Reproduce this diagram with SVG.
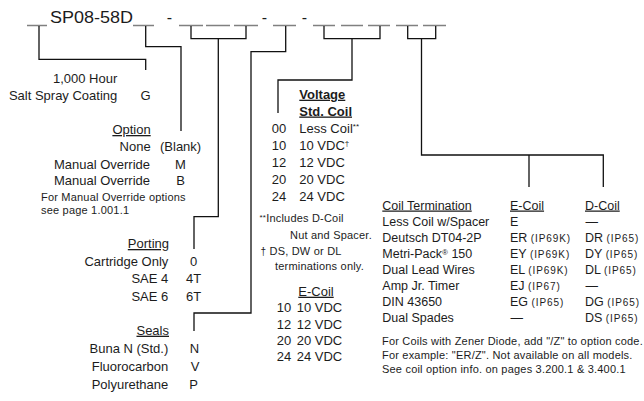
<svg xmlns="http://www.w3.org/2000/svg" width="644" height="401" viewBox="0 0 644 401">
<style>
text { font-family: "Liberation Sans", Arial, Helvetica, sans-serif; font-size: 13px; fill: #1c1c1c; }
.r { text-anchor: end; }
.m { text-anchor: middle; }
.u { text-decoration: underline; }
.b { font-weight: bold; }
.s { font-size: 11px; letter-spacing: 0.2px; }
.tb { font-size: 12.5px; }
.ip { font-size: 10px; letter-spacing: 0.9px; }
.sup { font-size: 8px; }
.c { fill: none; stroke: #111; stroke-width: 1.3; }
.us { fill: none; stroke: #808080; stroke-width: 1.7; }
</style>
<rect width="644" height="401" fill="#fff"/>
<g id="header">
  <path class="us" d="M27,25.5H47 M133,25.5H154 M179,25.5H203 M206,25.5H230 M234,25.5H258 M273,25.5H296 M313,25.5H335 M341,25.5H363 M368,25.5H390 M396,25.5H418 M423,25.5H446"/>
  <text x="50" y="23.3" style="font-size:16px" textLength="83" lengthAdjust="spacingAndGlyphs">SP08-58D</text>
  <text class="m" x="169.5" y="23.3" style="font-size:16px">-</text>
  <text class="m" x="264.5" y="23.3" style="font-size:16px">-</text>
  <text class="m" x="304.5" y="23.3" style="font-size:16px">-</text>
</g>
<g id="connectors">
  <path class="c" d="M39,26V59.3H145.7V70"/>
  <path class="c" d="M145.7,26V46.7H181V131"/>
  <path class="c" d="M191,26V38.7H246V26M218.3,38.7V216.7H194V249"/>
  <path class="c" d="M285.7,26V51.7H251V313H194V331"/>
  <path class="c" d="M324,26V38.7H380V26M352,38.7V80H278V113"/>
  <path class="c" d="M407.7,26V38.7H435.7V26M421.5,38.7V155H603.3V187M529,155V187"/>
</g>
<g id="coating">
  <text class="r" x="117.3" y="83">1,000 Hour</text>
  <text class="r" x="117.3" y="99.5">Salt Spray Coating</text>
  <text class="m" x="145.5" y="99.5">G</text>
</g>
<g id="option">
  <text class="r u" x="150.7" y="134">Option</text>
  <text class="r" x="150.7" y="151">None</text>
  <text x="160" y="151">(Blank)</text>
  <text class="r" x="150" y="169">Manual Override</text>
  <text class="m" x="180.5" y="169">M</text>
  <text class="r" x="150" y="185">Manual Override</text>
  <text class="m" x="180.5" y="185">B</text>
  <text class="s" x="41" y="201">For Manual Override options</text>
  <text class="s" x="41" y="213.5">see page 1.001.1</text>
</g>
<g id="porting">
  <text class="r u" x="169" y="248">Porting</text>
  <text class="r" x="168.3" y="265.7">Cartridge Only</text>
  <text class="m" x="193.7" y="265.7">0</text>
  <text class="r" x="168.3" y="283">SAE 4</text>
  <text class="m" x="193.5" y="283">4T</text>
  <text class="r" x="168.3" y="300.5">SAE 6</text>
  <text class="m" x="193.5" y="300.5">6T</text>
</g>
<g id="seals">
  <text class="r u" x="169" y="334.7">Seals</text>
  <text class="r" x="168.3" y="352.7">Buna N (Std.)</text>
  <text class="m" x="194.5" y="352.7">N</text>
  <text class="r" x="168.3" y="370.7">Fluorocarbon</text>
  <text class="m" x="195" y="370.7">V</text>
  <text class="r" x="168.3" y="388.7">Polyurethane</text>
  <text class="m" x="193.5" y="388.7">P</text>
</g>
<g id="voltage">
  <text class="b u" x="299.3" y="98.7">Voltage</text>
  <text class="b u" x="299.3" y="115.5">Std. Coil</text>
  <text x="271.7" y="133">00</text><text x="299.3" y="133">Less Coil<tspan class="sup" dy="-4">**</tspan></text>
  <text x="271.7" y="150">10</text><text x="299.3" y="150">10 VDC<tspan class="sup" dy="-4">†</tspan></text>
  <text x="271.7" y="167">12</text><text x="299.3" y="167">12 VDC</text>
  <text x="271.7" y="184">20</text><text x="299.3" y="184">20 VDC</text>
  <text x="271.7" y="201">24</text><text x="299.3" y="201">24 VDC</text>
  <text class="s" x="259.5" y="222"><tspan class="sup" dy="-2">**</tspan><tspan dy="2">Includes D-Coil</tspan></text>
  <text class="s" x="290" y="239">Nut and Spacer.</text>
  <text class="s" x="260.5" y="255"><tspan style="font-size:10px">†</tspan> DS, DW or DL</text>
  <text class="s" x="275" y="270">terminations only.</text>
</g>
<g id="ecoil">
  <text class="u" x="298.3" y="295.7">E-Coil</text>
  <text x="276.7" y="312.2">10</text><text x="296.7" y="312.2">10 VDC</text>
  <text x="276.7" y="328.7">12</text><text x="296.7" y="328.7">12 VDC</text>
  <text x="276.7" y="344.7">20</text><text x="296.7" y="344.7">20 VDC</text>
  <text x="276.7" y="360.7">24</text><text x="296.7" y="360.7">24 VDC</text>
</g>
<g id="coil-termination">
  <text class="tb u" x="382.3" y="209.5">Coil Termination</text>
  <text class="tb u" x="510" y="209.5">E-Coil</text>
  <text class="tb u" x="585" y="209.5">D-Coil</text>
  <text class="tb" x="382.3" y="225.5">Less Coil w/Spacer</text>
  <text class="tb" x="510" y="225.5">E</text>
  <text class="tb" x="585.5" y="225.5">—</text>
  <text class="tb" x="382.3" y="241.5">Deutsch DT04-2P</text>
  <text class="tb" x="510" y="241.5">ER <tspan class="ip">(IP69K)</tspan></text>
  <text class="tb" x="585" y="241.5">DR <tspan class="ip">(IP65)</tspan></text>
  <text class="tb" x="382.3" y="257.5">Metri-Pack<tspan class="sup" dy="-3">®</tspan><tspan dy="3"> 150</tspan></text>
  <text class="tb" x="510" y="257.5">EY <tspan class="ip">(IP69K)</tspan></text>
  <text class="tb" x="585" y="257.5">DY <tspan class="ip">(IP65)</tspan></text>
  <text class="tb" x="382.3" y="273.5">Dual Lead Wires</text>
  <text class="tb" x="510" y="273.5">EL <tspan class="ip">(IP69K)</tspan></text>
  <text class="tb" x="585" y="273.5">DL <tspan class="ip">(IP65)</tspan></text>
  <text class="tb" x="382.3" y="289.5">Amp Jr. Timer</text>
  <text class="tb" x="510" y="289.5">EJ <tspan class="ip">(IP67)</tspan></text>
  <text class="tb" x="585.5" y="289.5">—</text>
  <text class="tb" x="382.3" y="305.5">DIN 43650</text>
  <text class="tb" x="510" y="305.5">EG <tspan class="ip">(IP65)</tspan></text>
  <text class="tb" x="585" y="305.5">DG <tspan class="ip">(IP65)</tspan></text>
  <text class="tb" x="382.3" y="321.5">Dual Spades</text>
  <text class="tb" x="510.5" y="321.5">—</text>
  <text class="tb" x="585" y="321.5">DS <tspan class="ip">(IP65)</tspan></text>
</g>
<g id="notes">
  <text class="s" x="382" y="344.5">For Coils with Zener Diode, add "/Z" to option code.</text>
  <text class="s" x="382" y="358.5">For example: "ER/Z". Not available on all models.</text>
  <text class="s" x="382" y="372.5">See coil option info. on pages 3.200.1 &amp; 3.400.1</text>
</g>
</svg>
